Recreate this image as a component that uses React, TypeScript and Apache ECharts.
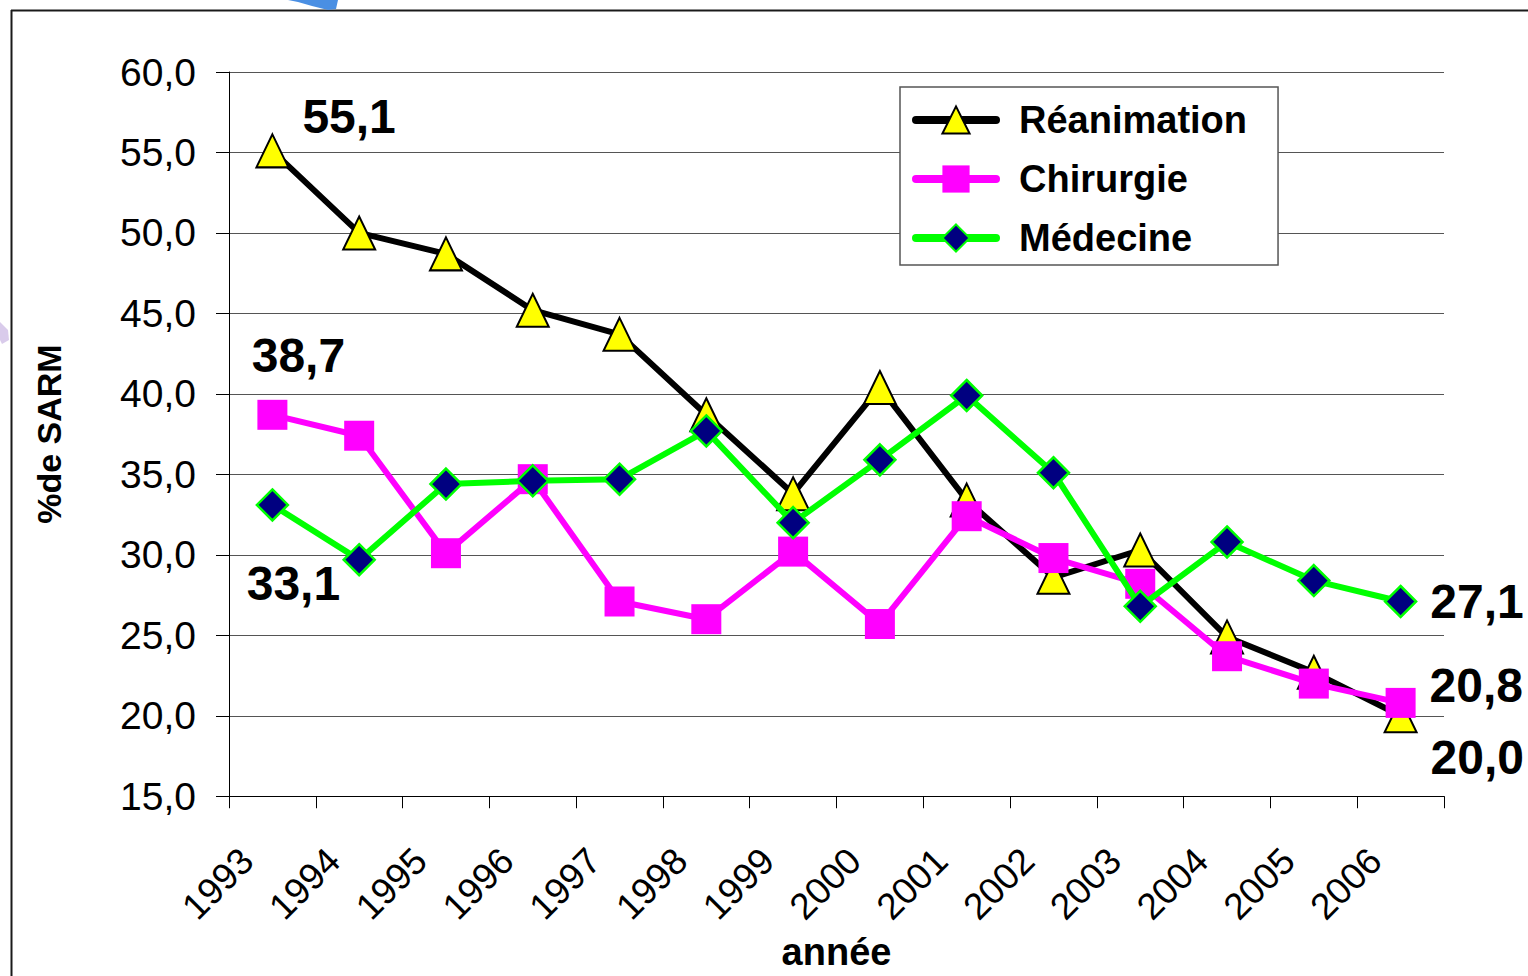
import React, { useEffect, useRef } from "react";
import * as echarts from "echarts";

const years = ["1993", "1994", "1995", "1996", "1997", "1998", "1999", "2000", "2001", "2002", "2003", "2004", "2005", "2006"];
const reanimation = [55.1, 50.0, 48.7, 45.2, 43.7, 38.7, 33.8, 40.4, 33.4, 28.6, 30.3, 24.9, 22.7, 20.0];
const chirurgie = [38.7, 37.4, 30.1, 34.7, 27.1, 26.0, 30.2, 25.7, 32.4, 29.8, 28.2, 23.7, 22.0, 20.8];
const medecine = [33.1, 29.7, 34.4, 34.6, 34.7, 37.7, 32.0, 35.9, 39.9, 35.1, 26.8, 30.8, 28.4, 27.1];
const seriesNames = ["Réanimation", "Chirurgie", "Médecine"];
const yMin = 15;
const yMax = 60;
const yStep = 5;

const FONT = "'Liberation Sans', Arial, Helvetica, sans-serif";
const fmt = (v: number) => v.toFixed(1).replace(".", ",");

const labelBase = {
  show: true,
  fontFamily: FONT,
  fontSize: 48,
  fontWeight: "bold",
  color: "#000",
  formatter: (p: any) => fmt(p.value),
};

function withEndLabels(values: number[], first: any, last: any) {
  return values.map((v, i) => {
    if (i === 0) return { value: v, label: { ...labelBase, ...first } };
    if (i === values.length - 1) return { value: v, label: { ...labelBase, ...last } };
    return v;
  });
}

export default function App() {
  const ref = useRef<HTMLDivElement>(null);
  useEffect(() => {
    if (!ref.current) return;
    const chart = echarts.init(ref.current, null, { renderer: "svg" });
    chart.setOption({
      animation: false,
      backgroundColor: "#fff",
      textStyle: { fontFamily: FONT },
      graphic: [
        {
          type: "line",
          shape: { x1: 11, y1: 10.5, x2: 1528, y2: 10.5 },
          style: { stroke: "#1a1a1a", lineWidth: 2 },
          z: 0,
        },
        {
          type: "line",
          shape: { x1: 11.5, y1: 10, x2: 11.5, y2: 976 },
          style: { stroke: "#1a1a1a", lineWidth: 2 },
          z: 0,
        },
        {
          type: "polygon",
          shape: { points: [[288, 0], [338, 0], [336, 9], [328, 10], [312, 6], [298, 2]] },
          style: { fill: "#4a8fe3" },
          z: 0,
        },
        {
          type: "polygon",
          shape: { points: [[0, 322], [8, 330], [9, 340], [2, 344], [0, 340]] },
          style: { fill: "rgba(170,140,210,0.45)" },
          z: 0,
        },
      ],
      legend: {
        orient: "vertical",
        left: 900,
        top: 87,
        itemWidth: 80,
        itemHeight: 34,
        itemGap: 21,
        padding: [14, 31, 8, 12],
        borderColor: "#555",
        borderWidth: 1.5,
        backgroundColor: "#fff",
        data: seriesNames,
        textStyle: {
          fontFamily: FONT,
          fontSize: 38,
          fontWeight: "bold",
          color: "#000",
          padding: [0, 0, 0, 18],
        },
        lineStyle: { width: 8, cap: "round" },
      },
      grid: { left: 229, top: 72, right: 84, bottom: 174, containLabel: false },
      xAxis: {
        type: "category",
        data: years,
        boundaryGap: true,
        name: "année",
        nameLocation: "middle",
        nameGap: 112,
        nameTextStyle: { fontFamily: FONT, fontSize: 38, fontWeight: "bold", color: "#000" },
        axisLine: { show: true, lineStyle: { color: "#000", width: 1 } },
        axisTick: { show: true, length: 12, lineStyle: { color: "#000", width: 1 } },
        axisLabel: {
          rotate: 45,
          interval: 0,
          margin: 33,
          fontFamily: FONT,
          fontSize: 37,
          color: "#000",
          padding: [0, 36, 0, 0],
        },
        splitLine: { show: false },
      },
      yAxis: {
        type: "value",
        min: yMin,
        max: yMax,
        interval: yStep,
        name: "%de SARM",
        nameLocation: "middle",
        nameGap: 163,
        nameTextStyle: { fontFamily: FONT, fontSize: 34, fontWeight: "bold", color: "#000" },
        axisLine: { show: true, lineStyle: { color: "#000", width: 1 } },
        axisTick: { show: true, length: 13, lineStyle: { color: "#000", width: 1 } },
        axisLabel: {
          formatter: (v: number) => fmt(v),
          margin: 33,
          fontFamily: FONT,
          fontSize: 39,
          color: "#000",
        },
        splitLine: { show: true, lineStyle: { color: "#555", width: 1 } },
      },
      series: [
        {
          name: seriesNames[0],
          type: "line",
          data: withEndLabels(
            reanimation,
            { position: "right", offset: [8, -34] },
            { position: "right", offset: [8, 42] }
          ),
          symbol: "triangle",
          symbolSize: [32, 33],
          lineStyle: { color: "#000", width: 6 },
          itemStyle: { color: "#FFFF00", borderColor: "#000", borderWidth: 2 },
          z: 2,
        },
        {
          name: seriesNames[1],
          type: "line",
          data: withEndLabels(
            chirurgie,
            { position: "top", offset: [26, -15] },
            { position: "right", offset: [9, -17] }
          ),
          symbol: "rect",
          symbolSize: 30,
          lineStyle: { color: "#FF00FF", width: 6 },
          itemStyle: { color: "#FF00FF", borderColor: "#FF00FF", borderWidth: 0 },
          z: 3,
        },
        {
          name: seriesNames[2],
          type: "line",
          data: withEndLabels(
            medecine,
            { position: "bottom", offset: [21, 33] },
            { position: "right", offset: [8, 0] }
          ),
          symbol: "diamond",
          symbolSize: 31,
          lineStyle: { color: "#00FF00", width: 6 },
          itemStyle: { color: "#000080", borderColor: "#00FF00", borderWidth: 2.5 },
          z: 4,
        },
      ],
    });
    return () => chart.dispose();
  }, []);
  return (
    <div
      ref={ref}
      style={{ position: "fixed", left: 0, top: 0, width: 1528, height: 976, background: "#fff" }}
    />
  );
}
